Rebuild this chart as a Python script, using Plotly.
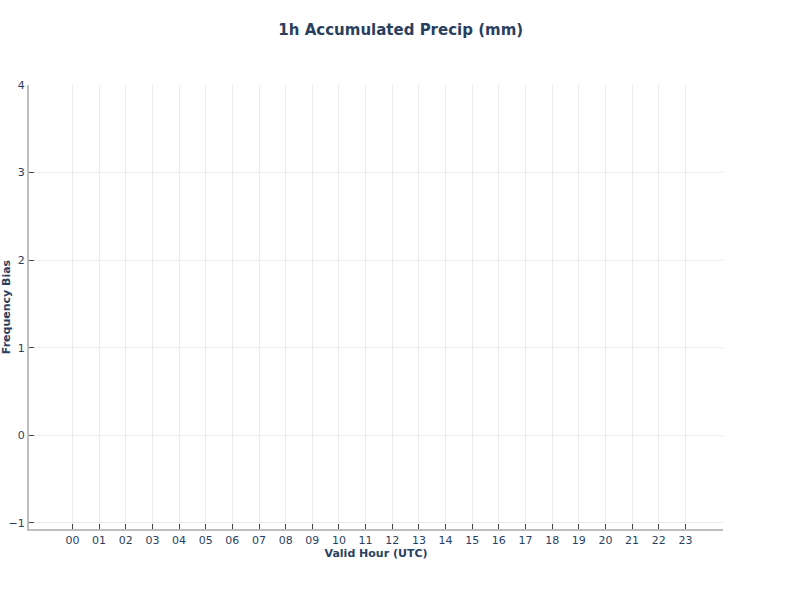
import plotly.graph_objects as go

hours = ["00", "01", "02", "03", "04", "05", "06", "07", "08", "09", "10", "11",
         "12", "13", "14", "15", "16", "17", "18", "19", "20", "21", "22", "23"]
frequency_bias = [None] * len(hours)  # no data plotted in the reference
y_ticks = [-1, 0, 1, 2, 3, 4]

font_family = "DejaVu Sans"
text_color = "#2a3f5f"

fig = go.Figure()
fig.add_trace(go.Scatter(x=hours, y=frequency_bias, mode="lines+markers",
                         showlegend=False))

fig.update_layout(
    width=792, height=612,
    margin=dict(l=29, r=69, t=85, b=83, autoexpand=False),
    paper_bgcolor="white", plot_bgcolor="white",
    font=dict(family=font_family, color=text_color, size=11),
    title=dict(text="<b>1h Accumulated Precip (mm)</b>", x=0.506, xanchor="center",
               y=0.951, yanchor="middle", font=dict(size=15, color=text_color)),
    showlegend=False,
)
fig.update_xaxes(
    type="category", categoryorder="array", categoryarray=hours,
    range=[-1.63, 24.41], automargin=False,
    showgrid=True, gridcolor="#ebebeb", gridwidth=1,
    showline=True, linecolor="#bebebe", linewidth=2,
    ticks="inside", ticklen=5, tickcolor="#444", tickwidth=1,
    tickfont=dict(size=11, color=text_color),
    title=dict(text="<b>Valid Hour (UTC)</b>", font=dict(size=11, color=text_color),
               standoff=2),
    zeroline=False,
)
fig.update_yaxes(
    range=[-1.07, 4.0], automargin=False,
    tickvals=y_ticks,
    showgrid=True, gridcolor="#ebebeb", gridwidth=1,
    showline=True, linecolor="#bebebe", linewidth=2,
    ticks="inside", ticklen=5, tickcolor="#444", tickwidth=1,
    tickfont=dict(size=11, color=text_color),
    title=dict(text="<b>Frequency Bias</b>", font=dict(size=11, color=text_color)),
    zeroline=False,
)

fig.write_html("out.html", config={"displayModeBar": False},
               post_script="document.body.style.margin='0px';")
